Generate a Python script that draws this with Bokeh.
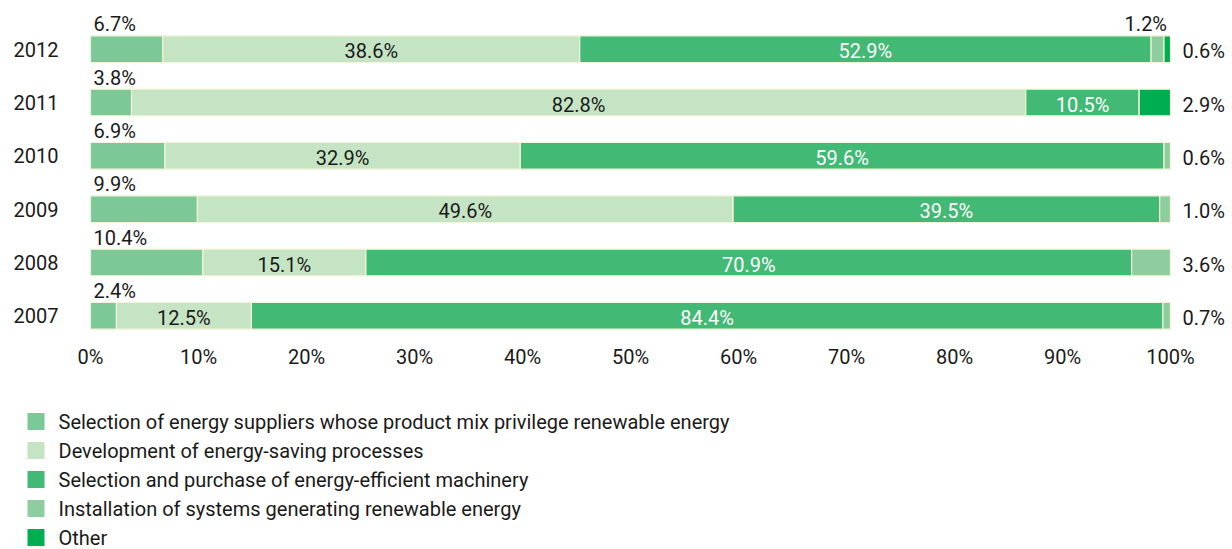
from bokeh.plotting import figure
from bokeh.layouts import column
from bokeh.models import (ColumnDataSource, Range1d, FixedTicker, PrintfTickFormatter)
from bokeh.core.properties import value
from bokeh.embed import file_html
from bokeh.resources import INLINE

years = [2007, 2008, 2009, 2010, 2011, 2012]
series_names = [
    "Selection of energy suppliers whose product mix privilege renewable energy",
    "Development of energy-saving processes",
    "Selection and purchase of energy-efficient machinery",
    "Installation of systems generating renewable energy",
    "Other",
]
suppliers = [2.4, 10.4, 9.9, 6.9, 3.8, 6.7]
saving = [12.5, 15.1, 49.6, 32.9, 82.8, 38.6]
machinery = [84.4, 70.9, 39.5, 59.6, 10.5, 52.9]
installation = [0.7, 3.6, 1.0, 0.6, 0.0, 1.2]
other = [0.0, 0.0, 0.0, 0.0, 2.9, 0.6]
colors = ["#7CC997", "#C5E4C4", "#42B974", "#8ECDA0", "#00AD50"]
x_ticks = [0, 10, 20, 30, 40, 50, 60, 70, 80, 90, 100]

FONT = "Roboto"
FS = "20px"
TXT = "#1a1a1a"
OUTLINE = "#F3F5D6"

W = 1232
H = 549
PLOT_H = 380
LEFT = 90
FRAME_W = W - LEFT
PX_PER_PCT = 10.8
ROW_PX = 320 / 6

keys = ["s0", "s1", "s2", "s3", "s4"]
series = [suppliers, saving, machinery, installation, other]
source = ColumnDataSource(dict(year=years, **{k: v for k, v in zip(keys, series)}))

p = figure(width=W, height=PLOT_H, output_backend="svg", toolbar_location=None,
           x_range=Range1d(0, FRAME_W / PX_PER_PCT),
           y_range=Range1d(years[0] - 0.5, years[-1] + 0.5 + 22 / ROW_PX),
           min_border_left=LEFT, min_border_right=0, min_border_top=0,
           min_border_bottom=PLOT_H - 342)
p.outline_line_color = None
p.xgrid.visible = False
p.ygrid.visible = False
p.background_fill_color = "white"
p.border_fill_color = "white"

p.hbar_stack(keys, y="year", height=0.5, color=colors, source=source,
             line_color=OUTLINE, line_width=1.2)

# Labels
above_l = dict(x=[], y=[], t=[])
above_r = dict(x=[], y=[], t=[])
center_b = dict(x=[], y=[], t=[])
center_w = dict(x=[], y=[], t=[])
right = dict(x=[], y=[], t=[])
for i, yr in enumerate(years):
    vals = [s[i] for s in series]
    last_nz = max(j for j, v in enumerate(vals) if v > 0)
    cum = 0.0
    for j, v in enumerate(vals):
        start, end = cum, cum + v
        cum = end
        if v <= 0:
            continue
        lab = f"{v:.1f}%"
        if j == 0:
            d = above_l; d["x"].append(start)
        elif j == 1:
            d = center_b; d["x"].append((start + end) / 2)
        elif j == 2:
            d = center_w; d["x"].append((start + end) / 2)
        elif j == last_nz:
            d = right; d["x"].append(100)
        else:
            d = above_r; d["x"].append(end)
        d["y"].append(yr); d["t"].append(lab)

common = dict(text_font=value(FONT), text_font_size=FS)
p.text(x="x", y="y", text="t", source=ColumnDataSource(above_l), text_color=TXT,
       text_align="left", text_baseline="middle", x_offset=3, y_offset=-25, **common)
p.text(x="x", y="y", text="t", source=ColumnDataSource(above_r), text_color=TXT,
       text_align="right", text_baseline="middle", x_offset=3, y_offset=-25, **common)
p.text(x="x", y="y", text="t", source=ColumnDataSource(center_b), text_color=TXT,
       text_align="center", text_baseline="middle", y_offset=2, **common)
p.text(x="x", y="y", text="t", source=ColumnDataSource(center_w), text_color="white",
       text_align="center", text_baseline="middle", y_offset=2, **common)
p.text(x="x", y="y", text="t", source=ColumnDataSource(right), text_color=TXT,
       text_align="left", text_baseline="middle", x_offset=12, y_offset=2, **common)

# Axes
p.xaxis.ticker = FixedTicker(ticks=x_ticks)
p.xaxis.formatter = PrintfTickFormatter(format="%d%%")
p.yaxis.ticker = FixedTicker(ticks=years)
p.yaxis.formatter = PrintfTickFormatter(format="%d")
for ax in (p.xaxis[0], p.yaxis[0]):
    ax.axis_line_color = None
    ax.major_tick_line_color = None
    ax.minor_tick_line_color = None
    ax.major_tick_out = 0
    ax.major_tick_in = 0
    ax.minor_tick_out = 0
    ax.major_label_text_font = FONT
    ax.major_label_text_font_size = FS
    ax.major_label_text_color = TXT
p.xaxis.major_label_standoff = 2
p.yaxis.major_label_standoff = 32

# Legend panel (drawn below the chart, pixel-scaled ranges)
LG_H = H - PLOT_H
lg = figure(width=W, height=LG_H, output_backend="svg", toolbar_location=None,
            x_range=Range1d(0, W), y_range=Range1d(LG_H, 0),
            x_axis_type=None, y_axis_type=None, min_border=0)
lg.outline_line_color = None
lg.xgrid.visible = False
lg.ygrid.visible = False
lg.background_fill_color = "white"
lg.border_fill_color = "white"
for fig in (p, lg):
    if "frame_align" in fig.properties():
        fig.frame_align = False

row_y = [41 + 29 * i for i in range(len(series_names))]
lg_src = ColumnDataSource(dict(x=[35.5] * len(series_names), tx=[58] * len(series_names),
                               y=row_y, c=colors, t=series_names))
lg.scatter(x="x", y="y", marker="square", size=17, fill_color="c", line_color=None,
           source=lg_src)
lg.text(x="tx", y="y", text="t", source=lg_src, text_color=TXT, text_align="left",
        text_baseline="middle", y_offset=0, **common)

layout = column(p, lg, spacing=0)
open("out.html", "w").write(file_html(layout, INLINE))
